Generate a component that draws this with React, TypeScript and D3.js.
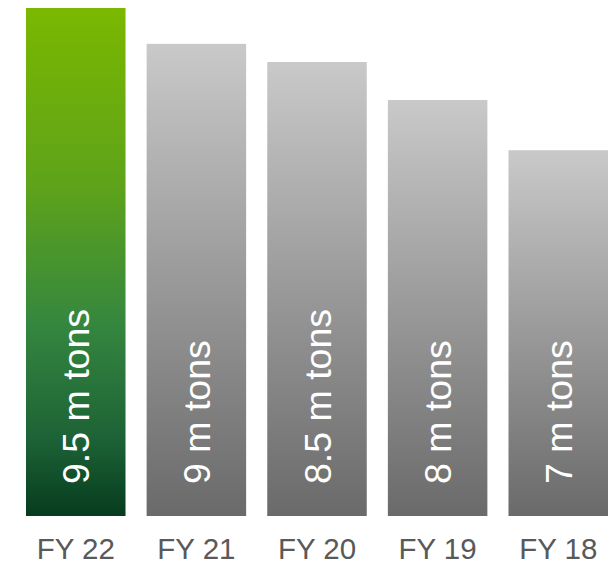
import React from "react";
import * as d3 from "d3";

const categories = ["FY 22", "FY 21", "FY 20", "FY 19", "FY 18"];
const values = [9.5, 8.83, 8.49, 7.78, 6.84];
const valueLabels = ["9.5 m tons", "9 m tons", "8.5 m tons", "8 m tons", "7 m tons"];

const W = 615;
const H = 566;

export default function App() {
  const x = d3.scaleBand<string>().domain(categories).range([26, 608]).paddingInner(0.175).paddingOuter(0);
  const y = d3.scaleLinear().domain([0, 9.5]).range([516, 8]);
  const font = "'Liberation Sans', Arial, sans-serif";
  return (
    <svg width={W} height={H} style={{ position: "absolute", left: 0, top: 0 }}>
      <defs>
        <linearGradient id="gGreen" x1="0" y1="0" x2="0" y2="1">
          <stop offset="0" stopColor="#7ab800" />
          <stop offset="0.35" stopColor="#5ea31a" />
          <stop offset="0.62" stopColor="#35873f" />
          <stop offset="0.85" stopColor="#1d6236" />
          <stop offset="1" stopColor="#063c1e" />
        </linearGradient>
        <linearGradient id="gGray" x1="0" y1="0" x2="0" y2="1">
          <stop offset="0" stopColor="#c9c9c9" />
          <stop offset="1" stopColor="#6a6a6a" />
        </linearGradient>
      </defs>
      {categories.map((c, i) => {
        const bx = x(c)!;
        const bw = x.bandwidth();
        const top = y(values[i]);
        const cx = bx + bw / 2;
        return (
          <g key={c}>
            <rect x={bx} y={top} width={bw} height={y(0) - top} fill={i === 0 ? "url(#gGreen)" : "url(#gGray)"} />
            <text
              transform={`translate(${cx + 13.5},${y(0) - 32}) rotate(-90)`}
              fill="#ffffff"
              fontFamily={font}
              fontSize={37.5}
              textAnchor="start"
            >
              {valueLabels[i]}
            </text>
            <text x={cx} y={559} fill="#595959" fontFamily={font} fontSize={29.5} textAnchor="middle">
              {c}
            </text>
          </g>
        );
      })}
    </svg>
  );
}
